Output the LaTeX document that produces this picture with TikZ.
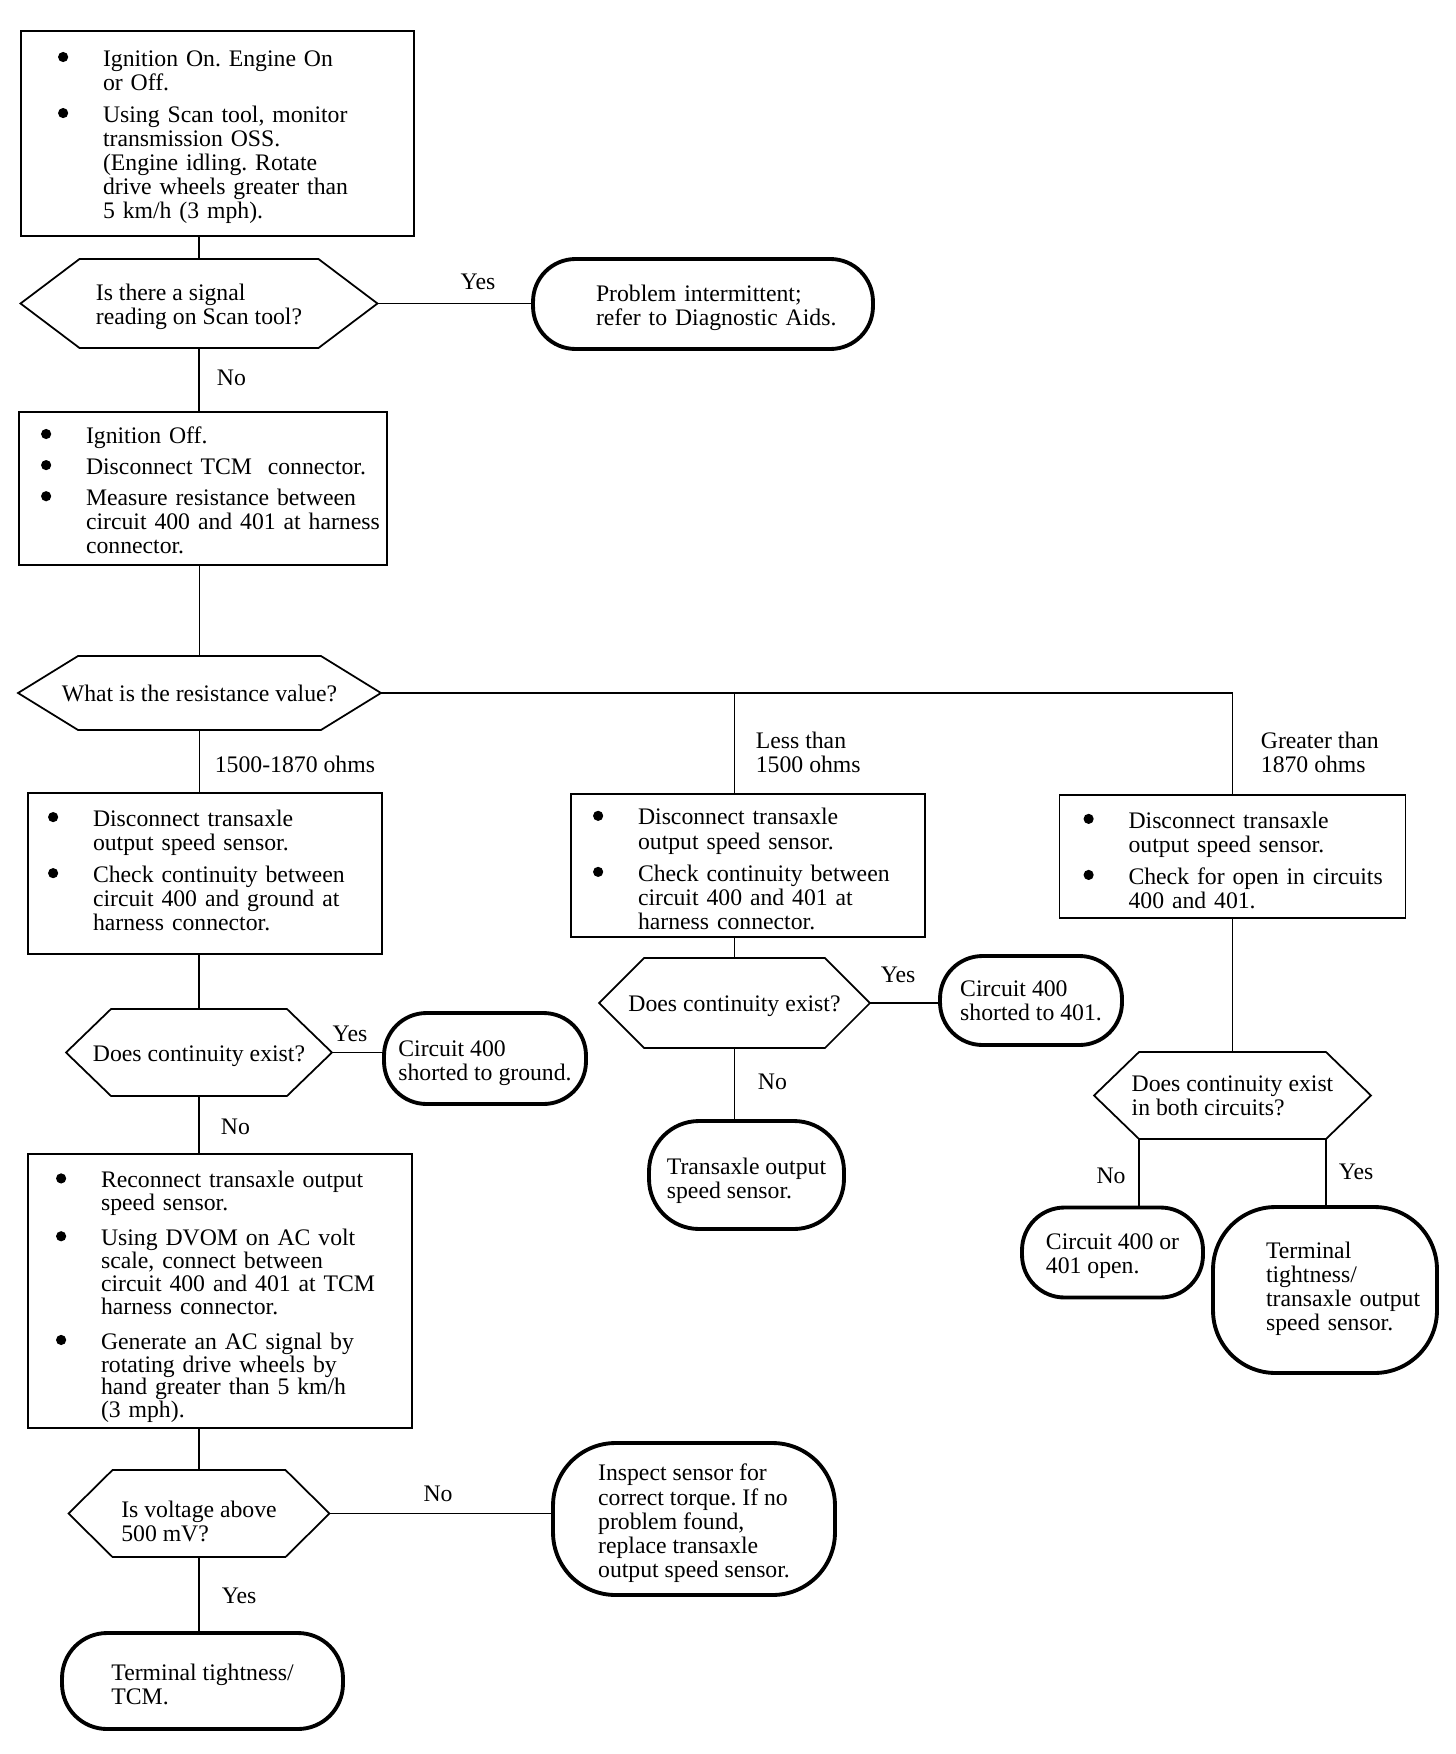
\documentclass[tikz,border=0pt]{standalone}
\usepackage{fontspec}
\setmainfont{Liberation Serif}
\usepackage{tikz}
\usetikzlibrary{positioning}
\frenchspacing

% outline of a decision node, #2 = depth of the pointed ends
\newcommand{\hexframe}[2]{%
  \draw[hexline] (#1.west) -- ([xshift=#2]#1.north west) -- ([xshift=-#2]#1.north east)
    -- (#1.east) -- ([xshift=-#2]#1.south east) -- ([xshift=#2]#1.south west) -- cycle;}
\newcommand{\dotmark}{\tikz[baseline=-5.2pt]\fill (0,0) circle (2.9pt);}

\begin{document}
\begin{tikzpicture}[x=0.02cm, y=-0.02cm,
      font=\fontsize{13.5}{13.7}\selectfont,
      line width=1pt,
      stepbox/.style={rectangle, draw, line width=1pt, align=left, outer sep=0pt, inner ysep=0pt},
      drop/.style={execute at begin node={\vspace*{#1}}},
      decision/.style={rectangle, align=left, outer sep=0pt, inner sep=0pt},
      hexline/.style={line width=1pt, line join=miter},
      outcome/.style={rectangle, draw, line width=2.2pt, rounded corners=0.85cm, align=left, outer sep=0pt, inner sep=0pt},
      lbl/.style={inner sep=0pt, align=left}
    ]
      \useasboundingbox (0,0) rectangle (1456,1754);

      % left column
      \node[stepbox, drop=-0.16cm, text width=6.38cm, inner xsep=0.74cm, minimum height=4.1cm] (check1) at (217.5,133.5) {%
        \begin{tabular}{@{}p{0.9cm}@{}l@{}}
        \dotmark & Ignition On. Engine On\\
                 & or Off.\\[4.5pt]
        \dotmark & Using Scan tool, monitor\\
                 & transmission OSS.\\
                 & (Engine idling. Rotate\\
                 & drive wheels greater than\\
                 & 5 km/h (3 mph).
        \end{tabular}};
      \node[decision, text height=26.7pt, text depth=2.9pt, minimum width=7.14cm, minimum height=1.78cm] (signal) at (199,303.5) {Is there a signal\\reading on Scan tool?};
      \hexframe{signal}{1.18cm}
      \node[outcome, drop=-0.18cm, text width=4.28cm, inner xsep=1.26cm, minimum height=1.8cm] (intermit) at (703,304) {%
        \begin{tabular}{@{}l@{}}Problem intermittent;\\refer to Diagnostic Aids.\end{tabular}};

      \node[stepbox, drop=-0.2cm, text width=6.48cm, inner xsep=0.44cm, minimum height=3.06cm] (check2) at (203,488.5) {%
        \begin{tabular}{@{}p{0.9cm}@{}l@{}}
        \dotmark & Ignition Off.\\[4pt]
        \dotmark & Disconnect TCM\ \ connector.\\[4pt]
        \dotmark & Measure resistance between\\
                 & circuit 400 and 401 at harness\\
                 & connector.
        \end{tabular}};
      \node[decision, minimum width=7.26cm, minimum height=1.48cm] (resist) at (199.5,693) {What is the resistance value?};
      \hexframe{resist}{1.2cm}

      \node[stepbox, text width=6.28cm, inner xsep=0.4cm, minimum height=3.22cm] (check3) at (205,873.5) {%
        \begin{tabular}{@{}p{0.9cm}@{}l@{}}
        \dotmark & Disconnect transaxle\\
                 & output speed sensor.\\[4.5pt]
        \dotmark & Check continuity between\\
                 & circuit 400 and ground at\\
                 & harness connector.
        \end{tabular}};
      \node[decision, text height=11.5pt, text depth=1.4pt, minimum width=5.32cm, minimum height=1.74cm] (contgnd) at (199,1052.5) {Does continuity exist?};
      \hexframe{contgnd}{0.9cm}
      \node[outcome, text height=27.9pt, text depth=2.9pt, minimum width=4.04cm, minimum height=1.82cm] (shortgnd) at (485,1058.5) {Circuit 400\\shorted to ground.};

      \node[stepbox, drop=-0.27cm, text width=6.56cm, inner xsep=0.56cm, minimum height=5.48cm,
            font=\fontsize{13.5}{12.3}\selectfont] (check6) at (220,1291) {%
        \begin{tabular}{@{}p{0.9cm}@{}l@{}}
        \dotmark & Reconnect transaxle output\\
                 & speed sensor.\\[6.8pt]
        \dotmark & Using DVOM on AC volt\\
                 & scale, connect between\\
                 & circuit 400 and 401 at TCM\\
                 & harness connector.\\[6.8pt]
        \dotmark & Generate an AC signal by\\
                 & rotating drive wheels by\\
                 & hand greater than 5 km/h\\
                 & (3 mph).
        \end{tabular}};
      \node[decision, text height=32pt, text depth=0.6pt, minimum width=5.22cm, minimum height=1.74cm] (volt) at (199,1513.5) {Is voltage above\\500 mV?};
      \hexframe{volt}{0.88cm}
      \node[outcome, text height=69.2pt, text depth=2.9pt, rounded corners=1.25cm, minimum width=5.64cm, minimum height=3.04cm] (inspect) at (694,1519) {Inspect sensor for\\correct torque. If no\\problem found,\\replace transaxle\\output speed sensor.};
      \node[outcome, text height=26.8pt, text depth=0.1pt, rounded corners=0.9cm, minimum width=5.62cm, minimum height=1.92cm] (termtcm) at (202.5,1681) {Terminal tightness/\\TCM.};

      % middle column
      \node[stepbox, drop=-0.27cm, text width=6.2cm, inner xsep=0.44cm, minimum height=2.86cm] (check4) at (748,865.5) {%
        \begin{tabular}{@{}p{0.9cm}@{}l@{}}
        \dotmark & Disconnect transaxle\\
                 & output speed sensor.\\[4.5pt]
        \dotmark & Check continuity between\\
                 & circuit 400 and 401 at\\
                 & harness connector.
        \end{tabular}};
      \node[decision, text height=11.5pt, text depth=1.4pt, minimum width=5.42cm, minimum height=1.8cm] (contmid) at (734.5,1003) {Does continuity exist?};
      \hexframe{contmid}{0.9cm}
      \node[outcome, minimum width=3.64cm, minimum height=1.78cm] (short401) at (1031,1000.5) {Circuit 400\\shorted to 401.};
      \node[outcome, text height=29.9pt, text depth=2.9pt, rounded corners=1cm, minimum width=3.9cm, minimum height=2.16cm] (sensor) at (746.5,1175) {Transaxle output\\speed sensor.};

      % right column
      \node[stepbox, drop=-0.27cm, text width=5.96cm, inner xsep=0.48cm, minimum height=2.46cm] (check5) at (1232.5,856.5) {%
        \begin{tabular}{@{}p{0.9cm}@{}l@{}}
        \dotmark & Disconnect transaxle\\
                 & output speed sensor.\\[4.5pt]
        \dotmark & Check for open in circuits\\
                 & 400 and 401.
        \end{tabular}};
      \node[decision, minimum width=5.54cm, minimum height=1.74cm] (contboth) at (1232.5,1095.5) {Does continuity exist\\in both circuits?};
      \hexframe{contboth}{0.9cm}
      \node[outcome, text height=27.3pt, text depth=2.9pt, minimum width=3.62cm, minimum height=1.8cm] (open) at (1112.5,1252.5) {Circuit 400 or\\401 open.};
      \node[outcome, rounded corners=1.25cm, text width=2.36cm, inner xsep=1.06cm, minimum height=3.32cm] (termsens) at (1325,1290) {%
        \begin{tabular}{@{}l@{}}Terminal\\tightness/\\transaxle output\\speed sensor.\end{tabular}};

      % connectors
      \draw (signal.north) -- (signal.north |- check1.south);
      \draw (signal.south) -- (signal.south |- check2.north);
      \draw (signal.east) -- (signal.east -| intermit.west);
      \draw (resist.north) -- (resist.north |- check2.south);
      \draw (resist.south) -- (resist.south |- check3.north);
      \draw (resist.east) -| (check5.north);
      \draw (resist.east -| contmid.north) -- (contmid.north |- check4.north);
      \draw (contgnd.north) -- (contgnd.north |- check3.south);
      \draw (contgnd.south) -- (contgnd.south |- check6.north);
      \draw (contgnd.east) -- (contgnd.east -| shortgnd.west);
      \draw (volt.north) -- (volt.north |- check6.south);
      \draw (volt.south) -- (volt.south |- termtcm.north);
      \draw (volt.east) -- (volt.east -| inspect.west);
      \draw (contmid.north) -- (contmid.north |- check4.south);
      \draw (contmid.south) -- (contmid.south |- sensor.north);
      \draw (contmid.east) -- (contmid.east -| short401.west);
      \draw (contboth.north) -- (contboth.north |- check5.south);
      \draw ([xshift=0.9cm]contboth.south west) -- ([xshift=0.9cm]contboth.south west |- open.north);
      \draw ([xshift=-0.9cm]contboth.south east) -- ([xshift=-0.9cm]contboth.south east |- termsens.north);

      % branch labels
      \node[lbl] (yes1) at (478,282) {Yes};
      \node[lbl, anchor=west] (no1) at (216,378) {No};
      \node[lbl, anchor=west] (range) at (214,764) {1500-1870 ohms};
      \node[lbl, anchor=west] (less) at (755,752) {Less than\\1500 ohms};
      \node[lbl, anchor=west] (greater) at (1260,752) {Greater than\\1870 ohms};
      \node[lbl] (yes3) at (350,1034) {Yes};
      \node[lbl, anchor=west] (no3) at (220,1127) {No};
      \node[lbl] (yes5) at (898,975) {Yes};
      \node[lbl, anchor=west] (no5) at (757,1082) {No};
      \node[lbl] (no6) at (1111,1176) {No};
      \node[lbl] (yes6) at (1356,1172) {Yes};
      \node[lbl] (no4) at (438,1494) {No};
      \node[lbl, anchor=west] (yes4) at (221,1596) {Yes};
    \end{tikzpicture}
\end{document}
